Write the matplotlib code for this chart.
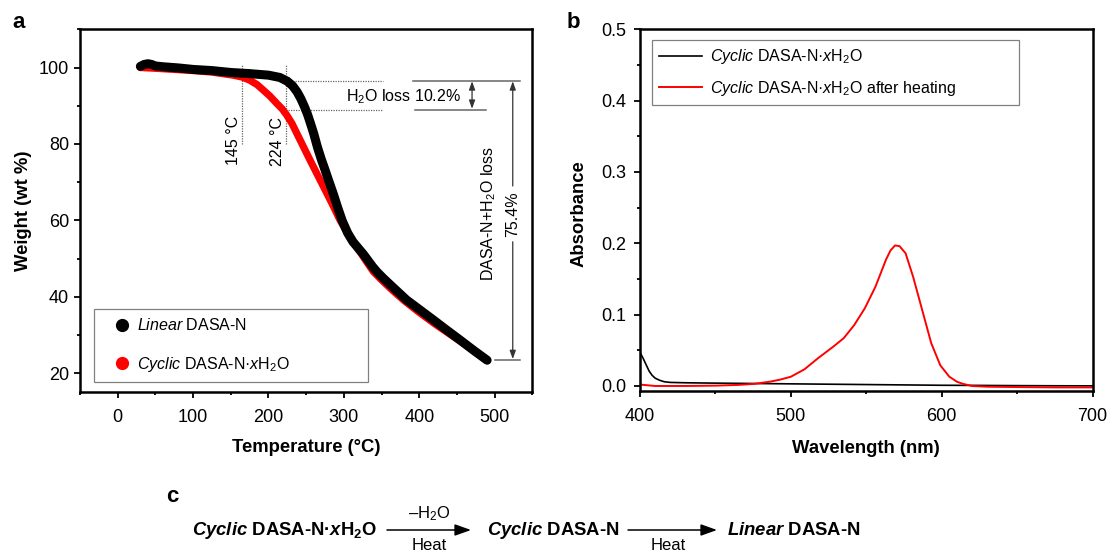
import matplotlib
matplotlib.use('Agg')
import matplotlib.pyplot as plt
from matplotlib.lines import Line2D
from matplotlib.patches import FancyArrowPatch
from matplotlib.ticker import MultipleLocator, FormatStrFormatter

plt.rcParams['font.family'] = 'Liberation Sans'
plt.rcParams['mathtext.fontset'] = 'custom'
plt.rcParams['mathtext.rm'] = 'Liberation Sans'
plt.rcParams['mathtext.it'] = 'Liberation Sans:italic'
plt.rcParams['mathtext.bf'] = 'Liberation Sans:bold'
plt.rcParams['mathtext.bfit'] = 'Liberation Sans:italic:bold'
plt.rcParams['mathtext.sf'] = 'Liberation Sans'

# TGA data (panel a)
temp_linear = [30, 35, 40, 45, 50, 60, 80, 100, 125, 150, 175, 200, 215, 225, 232, 238,
               243, 248, 252, 256, 260, 265, 270, 275, 280, 286, 292, 298, 305, 312, 320,
               326, 332, 338, 344, 352, 365, 383, 400, 419, 437, 454, 472, 490]
weight_linear = [100.3, 100.8, 101.0, 100.8, 100.4, 100.2, 99.9, 99.5, 99.2, 98.7, 98.4,
                 98.0, 97.4, 96.4, 95.2, 93.6, 91.8, 89.6, 87.6, 85.2, 82.7, 79.1, 76.0,
                 73.2, 70.3, 66.9, 63.2, 59.8, 56.7, 54.4, 52.5, 51.1, 49.5, 47.9, 46.5,
                 44.9, 42.5, 39.2, 36.7, 33.9, 31.2, 28.7, 26.0, 23.4]

temp_cyclic = [30, 50, 75, 100, 125, 153, 165, 175, 185, 193, 202, 211, 218, 224, 231, 238,
               246, 255, 264, 273, 284, 295, 306, 317, 328, 339, 350, 365, 380, 400, 420,
               440, 460, 475, 490]
weight_cyclic = [100.0, 99.8, 99.5, 99.2, 98.8, 98.0, 97.5, 96.7, 95.5, 94.1, 92.5, 90.6,
                 89.2, 87.6, 85.4, 82.6, 79.4, 75.8, 72.3, 68.8, 64.5, 60.0, 56.4, 53.1,
                 49.8, 46.6, 44.4, 41.6, 39.0, 35.9, 33.0, 30.3, 27.6, 25.5, 23.3]

# UV-vis data (panel b)
wl_before = [400, 402, 404, 406, 408, 410, 413, 416, 420, 430, 450, 475, 500, 525, 550,
             575, 600, 625, 650, 675, 700]
abs_before = [0.047, 0.039, 0.030, 0.021, 0.015, 0.011, 0.008, 0.006, 0.005, 0.0045, 0.004,
              0.0035, 0.003, 0.0025, 0.002, 0.0015, 0.001, 0.0008, 0.0005, 0.0003, 0.0002]

wl_after = [400, 405, 410, 430, 450, 465, 476, 486, 493, 500, 509, 518, 528, 535, 542, 549,
            556, 563, 566, 569, 572, 576, 581, 587, 593, 599, 605, 610, 614, 620, 630, 650,
            675, 700]
abs_after = [0.002, 0.001, 0.0, 0.0, 0.0005, 0.0015, 0.003, 0.006, 0.009, 0.013, 0.0234,
             0.039, 0.055, 0.067, 0.0855, 0.109, 0.139, 0.177, 0.190, 0.197, 0.196, 0.186,
             0.153, 0.1065, 0.060, 0.029, 0.013, 0.006, 0.003, 0.0, -0.001, -0.0015, -0.002,
             -0.002]

lbl_linear = r'$\mathit{Linear}$ DASA-N'
lbl_cyclic = r'$\mathit{Cyclic}$ DASA-N·$\mathit{x}$H$_2$O'
lbl_heated = r'$\mathit{Cyclic}$ DASA-N·$\mathit{x}$H$_2$O after heating'

fig = plt.figure(figsize=(11.1, 5.52), dpi=100)
ax1 = fig.add_axes([0.0721, 0.2893, 0.4075, 0.6576])
ax2 = fig.add_axes([0.5766, 0.2917, 0.4078, 0.6553])


def style_axes(ax):
    for s in ax.spines.values():
        s.set_linewidth(1.8)
    ax.tick_params(which='both', direction='out', top=False, right=False, labelsize=13)
    ax.tick_params(which='major', length=4, width=1.3)
    ax.tick_params(which='minor', length=2.5, width=1.3)


# ---- panel a ----
ax1.plot(temp_cyclic, weight_cyclic, color='#ff0000', lw=5.2,
         solid_capstyle='round', solid_joinstyle='round', zorder=3)
ax1.plot(temp_linear, weight_linear, color='black', lw=6.5,
         solid_capstyle='round', solid_joinstyle='round', zorder=4)
ax1.set_xlim(-50, 550)
ax1.set_ylim(15, 110)
ax1.xaxis.set_major_locator(MultipleLocator(100))
ax1.xaxis.set_minor_locator(MultipleLocator(50))
ax1.yaxis.set_major_locator(MultipleLocator(20))
ax1.yaxis.set_minor_locator(MultipleLocator(10))
style_axes(ax1)
ax1.tick_params(axis='x', pad=8)
ax1.tick_params(axis='y', pad=4)
ax1.set_xlabel('Temperature (°C)', fontsize=13.3, fontweight='bold')
ax1.set_ylabel('Weight (wt %)', fontsize=13.3, fontweight='bold')
ax1.xaxis.set_label_coords(0.5, -0.13)
ax1.yaxis.set_label_coords(-0.106, 0.5)

dot = dict(color='#666666', lw=0.9, ls=(0, (1, 1)))
ax1.plot([165, 165], [80, 101], **dot)
ax1.plot([223, 223], [80, 101], **dot)
ax1.plot([228, 352], [96.6, 96.6], **dot)
ax1.plot([226, 352], [88.9, 88.9], **dot)
ax1.text(163.5, 80.9, '145 °C', rotation=90, ha='right', va='center', fontsize=11.5)
ax1.text(221.5, 80.6, '224 °C', rotation=90, ha='right', va='center', fontsize=11.5)

sol = dict(color='#666666', lw=1.1)
ax1.plot([392, 534], [96.6, 96.6], **sol)
ax1.plot([394, 488], [89.0, 89.0], **sol)
ax1.plot([500, 534], [23.5, 23.5], **sol)
ax1.text(456, 92.4, 'H$_2$O loss 10.2%', ha='right', va='center', fontsize=11.5)
aprops = dict(arrowstyle='<|-|>,head_length=0.5,head_width=0.18', color='#333333',
              lw=0.9, shrinkA=0, shrinkB=0)
ax1.annotate('', xy=(470, 96.4), xytext=(470, 89.2), arrowprops=aprops)
one = dict(arrowstyle='-|>,head_length=0.5,head_width=0.18', color='#333333',
           lw=0.9, shrinkA=0, shrinkB=0)
ax1.annotate('', xy=(524, 96.4), xytext=(524, 69), arrowprops=one)
ax1.annotate('', xy=(524, 23.7), xytext=(524, 54.4), arrowprops=one)
ax1.text(524, 61.6, '75.4%', rotation=90, ha='center', va='center', fontsize=11.5)
ax1.text(492.5, 61.7, 'DASA-N+H$_2$O loss', rotation=90, ha='center', va='center',
         fontsize=11.5)

h_a = [Line2D([], [], ls='none', marker='o', ms=8.5, color='black'),
       Line2D([], [], ls='none', marker='o', ms=8.5, color='#ff0000')]
leg1 = ax1.legend(h_a, [lbl_linear, lbl_cyclic], loc='lower left',
                  bbox_to_anchor=(0.0316, 0.0292, 0.6044, 0.1956), mode='expand',
                  borderaxespad=0, borderpad=0.5, labelspacing=1.35, handlelength=2.5,
                  handletextpad=-0.33, fancybox=False, edgecolor='#808080',
                  framealpha=1, fontsize=11.5)
leg1.get_frame().set_linewidth(0.9)

# ---- panel b ----
ax2.plot(wl_before, abs_before, color='black', lw=1.2, label=lbl_cyclic)
ax2.plot(wl_after, abs_after, color='#ff0000', lw=1.4, label=lbl_heated)
ax2.set_xlim(400, 700)
ax2.set_ylim(-0.007, 0.5)
ax2.xaxis.set_major_locator(MultipleLocator(100))
ax2.xaxis.set_minor_locator(MultipleLocator(50))
ax2.yaxis.set_major_locator(MultipleLocator(0.1))
ax2.yaxis.set_minor_locator(MultipleLocator(0.05))
ax2.yaxis.set_major_formatter(FormatStrFormatter('%.1f'))
style_axes(ax2)
ax2.tick_params(axis='x', pad=8)
ax2.tick_params(axis='y', pad=6)
ax2.set_xlabel('Wavelength (nm)', fontsize=13.3, fontweight='bold')
ax2.set_ylabel('Absorbance', fontsize=13.3, fontweight='bold')
ax2.xaxis.set_label_coords(0.5, -0.135)
ax2.yaxis.set_label_coords(-0.115, 0.49)
leg2 = ax2.legend(loc='upper left', bbox_to_anchor=(0.0258, 0.80, 0.811, 0.1704),
                  mode='expand', borderaxespad=0, borderpad=0.45, labelspacing=0.8,
                  handlelength=2.7, handletextpad=0.5, fancybox=False,
                  edgecolor='#808080', framealpha=1, fontsize=11.5)
leg2.get_frame().set_linewidth(0.9)

# panel letters
fig.text(19 / 1110, 1 - 22 / 552, 'a', fontsize=16, fontweight='bold', ha='center', va='center')
fig.text(573 / 1110, 1 - 23 / 552, 'b', fontsize=16, fontweight='bold', ha='center', va='center')
fig.text(172 / 1110, 1 - 497 / 552, 'c', fontsize=16, fontweight='bold', ha='center', va='center')


# ---- panel c: reaction scheme ----
def fx(px):
    return px / 1110


def fy(py):
    return 1 - py / 552


base = 535
fig.text(fx(192), fy(base), r'$\mathbfit{Cyclic}$ DASA-N·$\mathbfit{x}$H$_\mathbf{2}$O',
         fontsize=13.3, fontweight='bold', ha='left', va='baseline')
fig.text(fx(487), fy(base), r'$\mathbfit{Cyclic}$ DASA-N',
         fontsize=13.3, fontweight='bold', ha='left', va='baseline')
fig.text(fx(727), fy(base), r'$\mathbfit{Linear}$ DASA-N',
         fontsize=13.3, fontweight='bold', ha='left', va='baseline')
for x0, x1 in [(387, 471), (628, 717)]:
    fig.add_artist(FancyArrowPatch((fx(x0), fy(530)), (fx(x1), fy(530)),
                                   transform=fig.transFigure,
                                   arrowstyle='-|>,head_length=0.7,head_width=0.25',
                                   mutation_scale=14, lw=1.1, color='black',
                                   shrinkA=0, shrinkB=0))
fig.text(fx(429), fy(514), '–H$_2$O', fontsize=12, ha='center', va='center')
fig.text(fx(429), fy(545), 'Heat', fontsize=12, ha='center', va='center')
fig.text(fx(668), fy(545), 'Heat', fontsize=12, ha='center', va='center')

fig.savefig('out.png', dpi=100)
